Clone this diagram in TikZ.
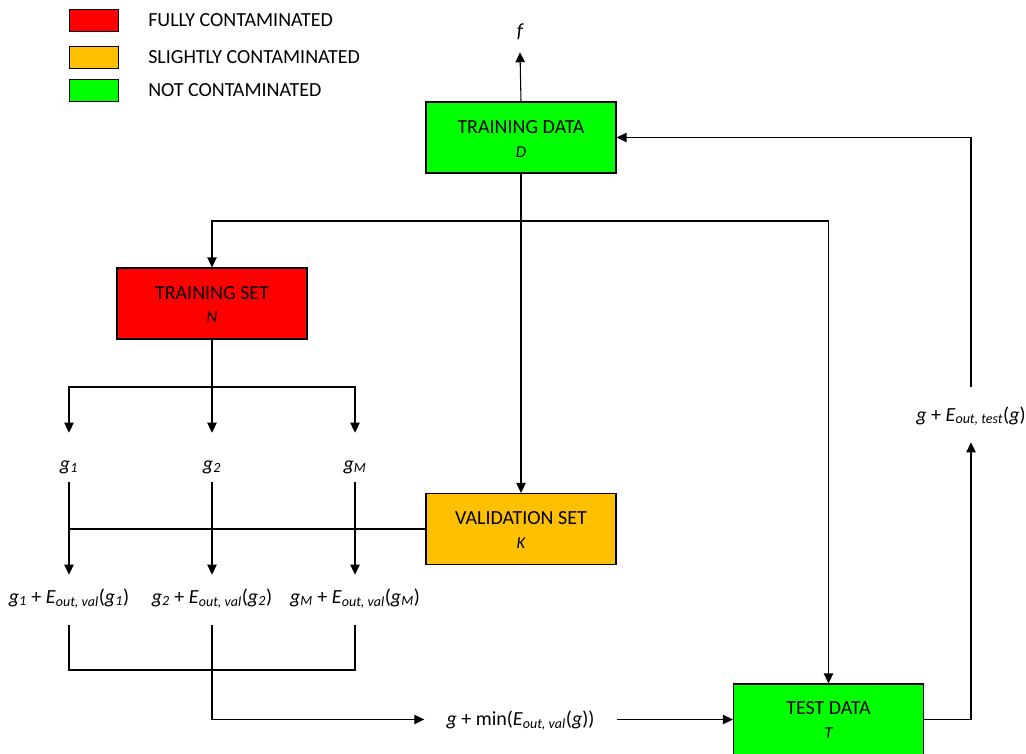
\documentclass[tikz,border=0pt]{standalone}
\usepackage{fontspec}
\setmainfont{Carlito}
\usetikzlibrary{arrows.meta}

\definecolor{fullred}{HTML}{FF0000}
\definecolor{slightor}{HTML}{FFC000}
\definecolor{cleangr}{HTML}{00FF00}

% italic subscript and indexed hypothesis g_i
\newcommand\sub[1]{\textsubscript{\itshape #1}}
\newcommand\gi[1]{\textit{g}\sub{#1}}

\begin{document}
\begin{tikzpicture}[x=0.75pt,y=-0.75pt,
  every node/.style={font=\fontsize{15}{18}\selectfont},
  databox/.style={draw=black, line width=0.8pt, minimum width=142.5pt,
    minimum height=53.25pt, inner sep=0},
  boxtitle/.style={inner sep=0, font=\fontsize{15}{18}\selectfont},
  boxsym/.style={inner sep=0, font=\fontsize{12.5}{15}\selectfont\itshape},
  key/.style={draw=black, line width=0.6pt, minimum width=36.75pt,
    minimum height=16.5pt, inner sep=0},
  keytext/.style={anchor=west, inner sep=0},
  link/.style={line width=0.8pt},
  arr/.style={link, -{Triangle[length=7.5pt,width=7pt]}},
  toplab/.style={anchor=base, inner sep=0, text height=27.75pt, text depth=9pt},
  botlab/.style={anchor=base, inner sep=0, text height=21pt, text depth=16.5pt},
]
\useasboundingbox (0,0) rectangle (1026,754);

% legend
\node[key, fill=fullred]  (k1) at (93.5,20) {};
\node[keytext] (k1t) at (148,20) {FULLY CONTAMINATED};
\node[key, fill=slightor] (k2) at (93.5,57) {};
\node[keytext] (k2t) at (148,57) {SLIGHTLY CONTAMINATED};
\node[key, fill=cleangr]  (k3) at (93.5,90) {};
\node[keytext] (k3t) at (148,90) {NOT CONTAMINATED};

% data boxes
\node[databox, fill=cleangr] (td) at (521,137.5) {};
\node[boxtitle] (tdt) at (521,127) {TRAINING DATA};
\node[boxsym]   (tds) at (521,152) {D};

\node[databox, fill=fullred] (ts) at (212,303.5) {};
\node[boxtitle] (tst) at (212,293) {TRAINING SET};
\node[boxsym]   (tss) at (212,317) {N};

\node[databox, fill=slightor] (vs) at (521,529) {};
\node[boxtitle] (vst) at (521,518) {VALIDATION SET};
\node[boxsym]   (vss) at (521,543) {K};

\node[databox, fill=cleangr] (te) at (828.5,719.5) {};
\node[boxtitle] (tet) at (828.5,708) {TEST DATA};
\node[boxsym]   (tes) at (828.5,733) {T};

% text labels
\node[anchor=base, inner sep=0, text depth=11.25pt,
  font=\fontsize{15}{18}\selectfont\itshape] (f) at (520,37) {f};

\node[toplab] (g1) at (69,470)  {\gi{1}};
\node[toplab] (g2) at (212,470) {\gi{2}};
\node[toplab] (gM) at (355,470) {\gi{M}};

\node[botlab] (e1) at (69,603)  {\gi{1} + \textit{E}\sub{out, val}(\gi{1})};
\node[botlab] (e2) at (212,603) {\gi{2} + \textit{E}\sub{out, val}(\gi{2})};
\node[botlab] (eM) at (355,603) {\gi{M} + \textit{E}\sub{out, val}(\gi{M})};

\node[anchor=base, inner sep=0, inner xsep=16.5pt, text height=12pt,
  text depth=3pt] (mn) at (520.5,725.5)
  {\textit{g} + min(\textit{E}\sub{out, val}(\textit{g}))};

\node[anchor=base, inner sep=0, text height=25.5pt, text depth=15.75pt]
  (rl) at (971,421) {\textit{g} + \textit{E}\sub{out, test}(\textit{g})};

% connectors
\draw[arr] (td.north) -- (f.south);
\draw[arr] (td.south) -- (vs.north);
\coordinate (fork) at (521,221);
\draw[arr] (fork) -| (ts.north);
\draw[arr] (fork) -| (te.north);

\coordinate (split) at (212,387);
\draw[link] (ts.south) -- (split);
\draw[arr] (split) -| (g1.north);
\draw[arr] (split) -- (g2.north);
\draw[arr] (split) -| (gM.north);

\draw[arr] (g1.south) -- (e1.north);
\draw[arr] (g2.south) -- (e2.north);
\draw[arr] (gM.south) -- (eM.north);
\draw[link] (vs.west) -- (vs.west -| g1.south);

\coordinate (pair) at (212,670);
\draw[link] (e1.south) |- (pair) -| (eM.south);
\draw[arr] (e2.south) |- (mn.west);
\draw[arr] (mn.east) -- (te.west);

\draw[arr] (te.east) -| (rl.south);
\draw[arr] (rl.north) |- (td.east);
\end{tikzpicture}
\end{document}
